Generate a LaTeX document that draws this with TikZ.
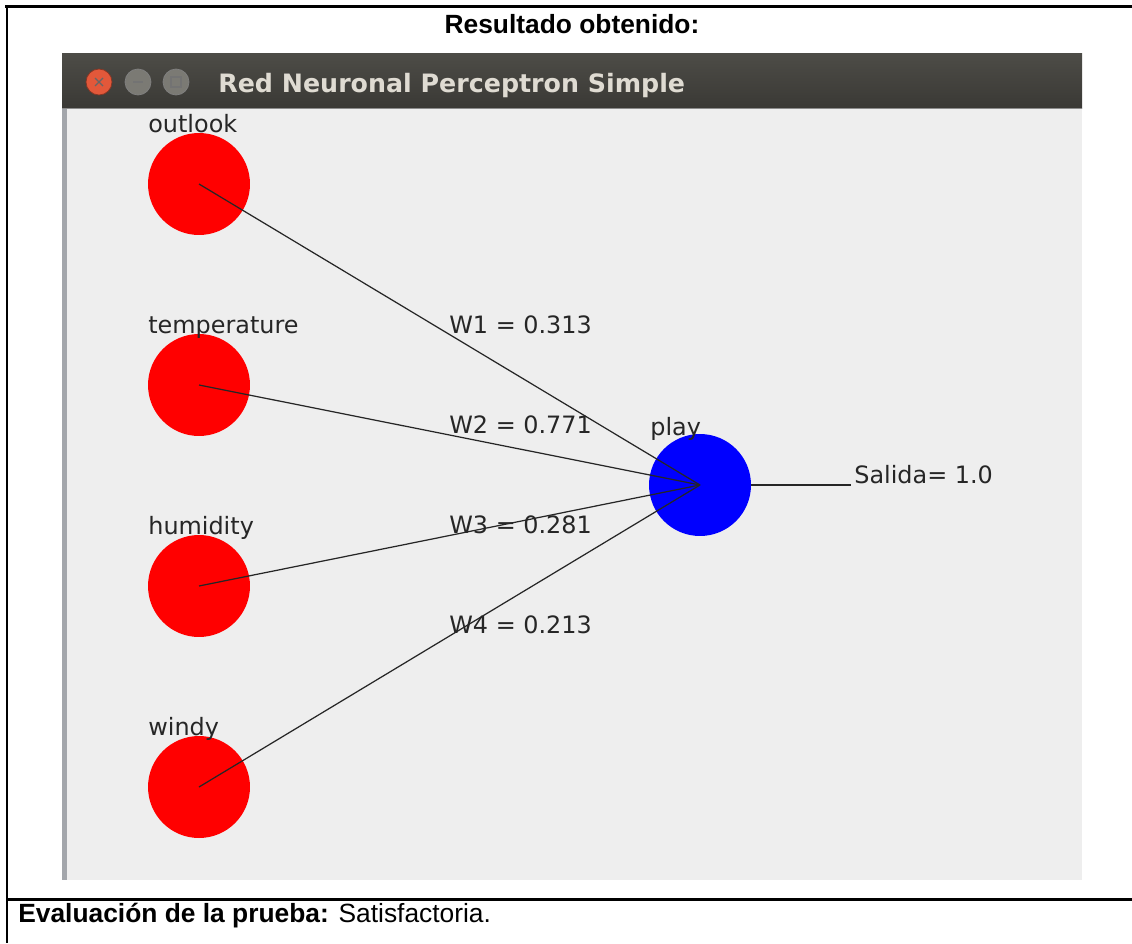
\documentclass[tikz,border=0pt]{standalone}
\usepackage{fontspec}
\setmainfont{Liberation Sans}
\newfontfamily\guifont{DejaVu Sans}
\usetikzlibrary{positioning}
\definecolor{winBg}{HTML}{EEEEEE}
\definecolor{barTop}{HTML}{4D4C47}
\definecolor{barBottom}{HTML}{3A3935}
\definecolor{barText}{HTML}{DFDBD2}
\definecolor{closeRed}{HTML}{E2583A}
\definecolor{btnGray}{HTML}{7B7A74}
\definecolor{edgeGray}{HTML}{A3A6AB}

\begin{document}
\begin{tikzpicture}[x=0.02cm,y=-0.02cm]

\useasboundingbox (0,0) rectangle (1132,943);

\tikzstyle{inNeuron}=[circle,fill=red,minimum size=2.04cm,inner sep=0pt]
\tikzstyle{outNeuron}=[inNeuron, fill=blue];
\tikzstyle{guiText}=[inner sep=0pt,anchor=base west,text=black!85,font=\guifont\fontsize{13.6}{16}\selectfont]
\tikzstyle{synapse}=[line width=0.7pt,black!85]
\tikzstyle{winBtn}=[circle,minimum size=0.52cm,inner sep=0pt,fill=btnGray,draw=black!50,line width=0.4pt]

%Table frame
\draw[line width=1.2pt] (5,6.5) -- (1132,6.5);
\draw[line width=1.2pt] (7,5) -- (7,943);
\draw[line width=1.7pt] (7,899) -- (1132,899);
\node[anchor=base,inner sep=0pt,font=\bfseries\fontsize{15}{18}\selectfont] (captionTop) at (572,33) {Resultado obtenido:};
\node[anchor=base west,inner sep=0pt,font=\fontsize{15}{18}\selectfont] (captionBottom) at (18,922) {\textbf{Evaluación de la prueba:} Satisfactoria.};

%Window
\fill[winBg] (62,109) rectangle (1082,880);
\shade[top color=barTop,bottom color=barBottom] (62,53) rectangle (1082,108);
\draw[black!45,line width=0.6pt] (62,108.5) -- (1082,108.5);
\fill[edgeGray] (62,109) rectangle (67,880);
\node[winBtn,fill=closeRed,draw=closeRed!60!black] (closeBtn) at (99,82) {};
\node[winBtn] (minBtn) at (138,82) {};
\node[winBtn] (maxBtn) at (176,82) {};
\draw[black!60,line width=0.8pt] ([shift={(-4,-4)}]closeBtn.center) -- ([shift={(4,4)}]closeBtn.center);
\draw[black!60,line width=0.8pt] ([shift={(-4,4)}]closeBtn.center) -- ([shift={(4,-4)}]closeBtn.center);
\draw[black!55,line width=0.8pt] ([shift={(-5,0)}]minBtn.center) -- ([shift={(5,0)}]minBtn.center);
\draw[black!55,line width=0.7pt] ([shift={(-5,-5)}]maxBtn.center) rectangle ([shift={(5,5)}]maxBtn.center);
\node[anchor=base west,inner sep=0pt,text=barText,font=\guifont\bfseries\fontsize{14.4}{17}\selectfont] (winTitle) at (218,92) {Red Neuronal Perceptron Simple};

%input nodes
\node[inNeuron] (outlook)     at (199,184) {};
\node[inNeuron] (temperature) at (199,385) {};
\node[inNeuron] (humidity)    at (199,586) {};
\node[inNeuron] (windy)       at (199,787) {};

%output node
\node[outNeuron] (play) at (700,485) {};
\coordinate (salidaEnd) at (851,485);

%Layer Marks
\node[guiText] (outlookLabel)     at (148,132) {outlook};
\node[guiText] (temperatureLabel) at (148,333) {temperature};
\node[guiText] (humidityLabel)    at (148,534) {humidity};
\node[guiText] (windyLabel)       at (148,735) {windy};
\node[guiText] (playLabel)        at (650,435) {play};
\node[guiText] (salidaLabel)      at (854,483) {Salida= 1.0};

% connections
\draw[synapse] (outlook.center)     -- (play.center);
\draw[synapse] (temperature.center) -- (play.center);
\draw[synapse] (humidity.center)    -- (play.center);
\draw[synapse] (windy.center)       -- (play.center);
\draw[synapse] (play.east) -- (salidaEnd);

%weights
\node[guiText] (wOne)   at (449,333) {W1 = 0.313};
\node[guiText] (wTwo)   at (449,433) {W2 = 0.771};
\node[guiText] (wThree) at (449,533) {W3 = 0.281};
\node[guiText] (wFour)  at (449,633) {W4 = 0.213};

\end{tikzpicture}
\end{document}
